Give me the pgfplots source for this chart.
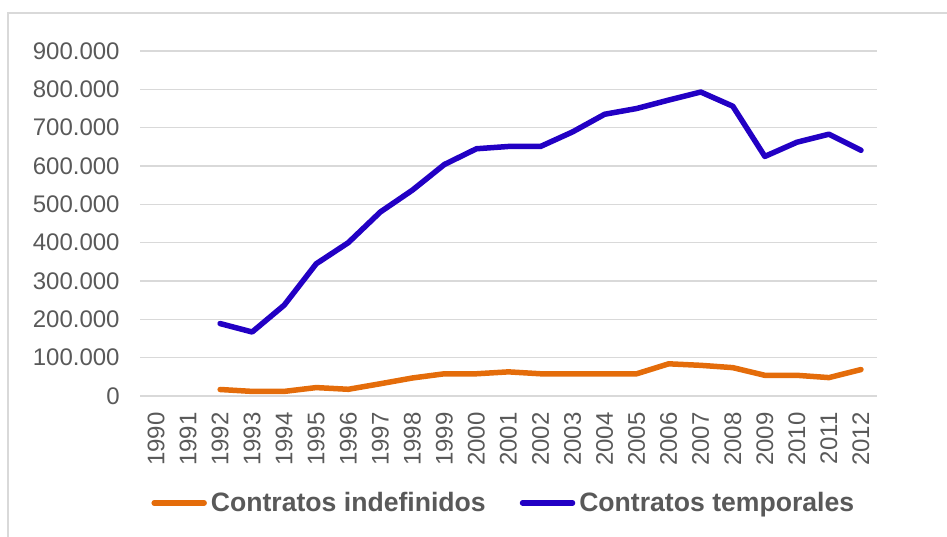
\documentclass[border=0pt]{standalone}
\usepackage{pgfplots}
\pgfplotsset{compat=1.18}
\usepackage{fontspec}
\setmainfont{Liberation Sans}
\definecolor{orangeC}{HTML}{E46C0A}
\definecolor{blueC}{HTML}{2200C4}
\definecolor{gridC}{HTML}{D9D9D9}
\definecolor{txtC}{HTML}{595959}
\begin{document}
\begin{tikzpicture}
\useasboundingbox (0,0) rectangle (473.5pt,-268pt);
\draw[gridC, line width=0.75pt] (4pt,-270pt) -- (4pt,-6.5pt) -- (476pt,-6.5pt);
\begin{axis}[
  scale only axis,
  width=368.5pt, height=172.5pt,
  at={(70pt,-198pt)}, anchor=south west,
  xmin=1989.5, xmax=2012.5,
  ymin=0, ymax=900000,
  axis line style={draw=none},
  major tick length=0pt,
  ytick={0,100000,...,900000},
  xtick={1990,...,2012},
  xticklabels={1990,1991,1992,1993,1994,1995,1996,1997,1998,1999,2000,2001,2002,2003,2004,2005,2006,2007,2008,2009,2010,2011,2012},
  scaled y ticks=false,
  yticklabel style={/pgf/number format/fixed, /pgf/number format/1000 sep={.}, /pgf/number format/assume math mode=true, inner sep=0pt},
  yticklabel shift=10pt,
  xticklabel shift=8pt,
  xticklabel style={rotate=90, anchor=east, inner sep=0pt},
  tick label style={font=\fontsize{12}{14}\selectfont, text=txtC},
  ymajorgrids,
  grid style={draw=gridC, line width=0.75pt},
  legend columns=2,
  legend style={at={(0.495,-0.31)}, anchor=center, draw=none, fill=none,
    font=\fontsize{13.3}{15}\selectfont\bfseries, text=txtC,
    /tikz/every even column/.append style={column sep=15pt},
    inner sep=0pt},
  legend image code/.code={\draw[#1, line cap=round] (0pt,0pt) -- (25pt,0pt);},
]
\addplot[color=orangeC, line width=2.75pt, line join=round, line cap=round] coordinates {
(1992,17000) (1993,12000) (1994,12000) (1995,22000) (1996,17500) (1997,32000)
(1998,47000) (1999,58000) (2000,58000) (2001,63000) (2002,58000) (2003,58000)
(2004,58000) (2005,58000) (2006,84000) (2007,80000) (2008,74000) (2009,54000)
(2010,54000) (2011,48000) (2012,69000)};
\addlegendentry{Contratos indefinidos}
\addplot[color=blueC, line width=2.75pt, line join=round, line cap=round] coordinates {
(1992,189000) (1993,167000) (1994,237000) (1995,345000) (1996,400000) (1997,480000)
(1998,537000) (1999,604000) (2000,645000) (2001,651000) (2002,651000) (2003,689000)
(2004,735000) (2005,750000) (2006,772000) (2007,793000) (2008,756000) (2009,625000)
(2010,662000) (2011,683000) (2012,641000)};
\addlegendentry{Contratos temporales}
\end{axis}
\end{tikzpicture}
\end{document}
